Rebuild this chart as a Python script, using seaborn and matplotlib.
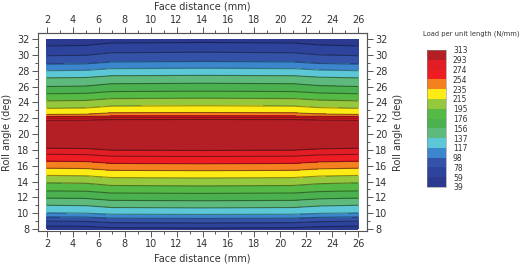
import numpy as np
import pandas as pd
import seaborn as sns
import matplotlib
matplotlib.use("Agg")
import matplotlib.pyplot as plt
from matplotlib.colors import BoundaryNorm, ListedColormap
from matplotlib.ticker import MultipleLocator

# ---- data ----
roll_angle = [8, 9, 10, 11, 12, 13, 14, 15, 16, 17, 18, 18.5, 19, 20, 21,
              21.7, 22, 22.4, 23, 24, 25, 26, 27, 28, 29, 30, 31, 32]
edge_load = [48, 78, 116, 137, 158, 180, 198, 220, 242, 263, 288, 300, 301, 303, 302,
             296, 274, 237, 220, 199, 178, 156, 139, 117, 94, 76, 61, 45]
face_distance = [2, 5, 7, 14, 21, 23, 26]
load_rise = [0, 1, 6, 7, 6, 2, 0]

levels = [39, 59, 78, 98, 117, 137, 156, 176, 195, 215, 235, 254, 274, 293, 313]
band_colors = ["#2B3A8F", "#2E439B", "#3452A8", "#3C86CD", "#5CC7D6", "#5DB97C",
               "#4BB04F", "#55B946", "#95C83D", "#FDEB16", "#F4801F", "#EE1D23",
               "#E11E26", "#B31F25"]
x_ticks = [2, 4, 6, 8, 10, 12, 14, 16, 18, 20, 22, 24, 26]
y_ticks = [8, 10, 12, 14, 16, 18, 20, 22, 24, 26, 28, 30, 32]

sns.set_theme(style="ticks")
plt.rcParams['font.family'] = ['DejaVu Sans']

df = pd.DataFrame(np.add.outer(edge_load, load_rise), index=roll_angle, columns=face_distance)

fig = plt.figure(figsize=(5.25, 2.71), dpi=100)
ax = fig.add_axes([38/525, 40/271, 329/525, 198/271])

cmap = ListedColormap(sns.color_palette(band_colors))
norm = BoundaryNorm(levels, cmap.N)
X, Y = np.meshgrid(df.columns.values, df.index.values)
cf = ax.contourf(X, Y, df.values, levels=levels, cmap=cmap, norm=norm)
ax.contour(X, Y, df.values, levels=levels[1:-1], colors='black', alpha=0.42, linewidths=0.8)

ax.set_xlim(1.31, 26.69)
ax.set_ylim(7.75, 32.76)

edge = "#555555"
txt = "#333333"
for s in ax.spines.values():
    s.set_color(edge)
    s.set_linewidth(0.8)

def style_axis(axis):
    axis.set_major_locator(MultipleLocator(2))
    axis.set_minor_locator(MultipleLocator(1))

style_axis(ax.xaxis)
style_axis(ax.yaxis)
ax.set_xticks(x_ticks)
ax.set_yticks(y_ticks)
ax.tick_params(which='major', length=4, width=0.7, color=edge, labelsize=7, labelcolor=txt, pad=2)
ax.tick_params(which='minor', length=2.5, width=0.7, color=edge)
ax.set_xlabel("Face distance (mm)", fontsize=7, color=txt, labelpad=3)
ax.set_ylabel("Roll angle (deg)", fontsize=7, color=txt, labelpad=4)

secx = ax.secondary_xaxis('top')
style_axis(secx.xaxis)
secx.set_xticks(x_ticks)
secx.tick_params(which='major', length=4, width=0.7, color=edge, labelsize=7, labelcolor=txt, pad=2)
secx.tick_params(which='minor', length=2.5, width=0.7, color=edge)
secx.set_xlabel("Face distance (mm)", fontsize=7, color=txt, labelpad=4)
for s in secx.spines.values():
    s.set_color(edge)
    s.set_linewidth(0.8)

secy = ax.secondary_yaxis('right')
style_axis(secy.yaxis)
secy.set_yticks(y_ticks)
secy.tick_params(which='major', length=4, width=0.7, color=edge, labelsize=7, labelcolor=txt, pad=2)
secy.tick_params(which='minor', length=2.5, width=0.7, color=edge)
secy.set_ylabel("Roll angle (deg)", fontsize=7, color=txt, labelpad=4, rotation=90)
for s in secy.spines.values():
    s.set_color(edge)
    s.set_linewidth(0.8)

cax = fig.add_axes([427/525, 84/271, 19/525, 137/271])
cb = fig.colorbar(cf, cax=cax, ticks=levels)
cb.ax.tick_params(labelsize=5.5, length=0, pad=5, labelcolor=txt)
cb.outline.set_linewidth(0.4)
cb.outline.set_edgecolor("#888888")
fig.text(423/525, 1 - 34/271, "Load per unit length (N/mm)", fontsize=4.9,
         va='center', ha='left', color=txt)

fig.savefig("out.png", dpi=100)
